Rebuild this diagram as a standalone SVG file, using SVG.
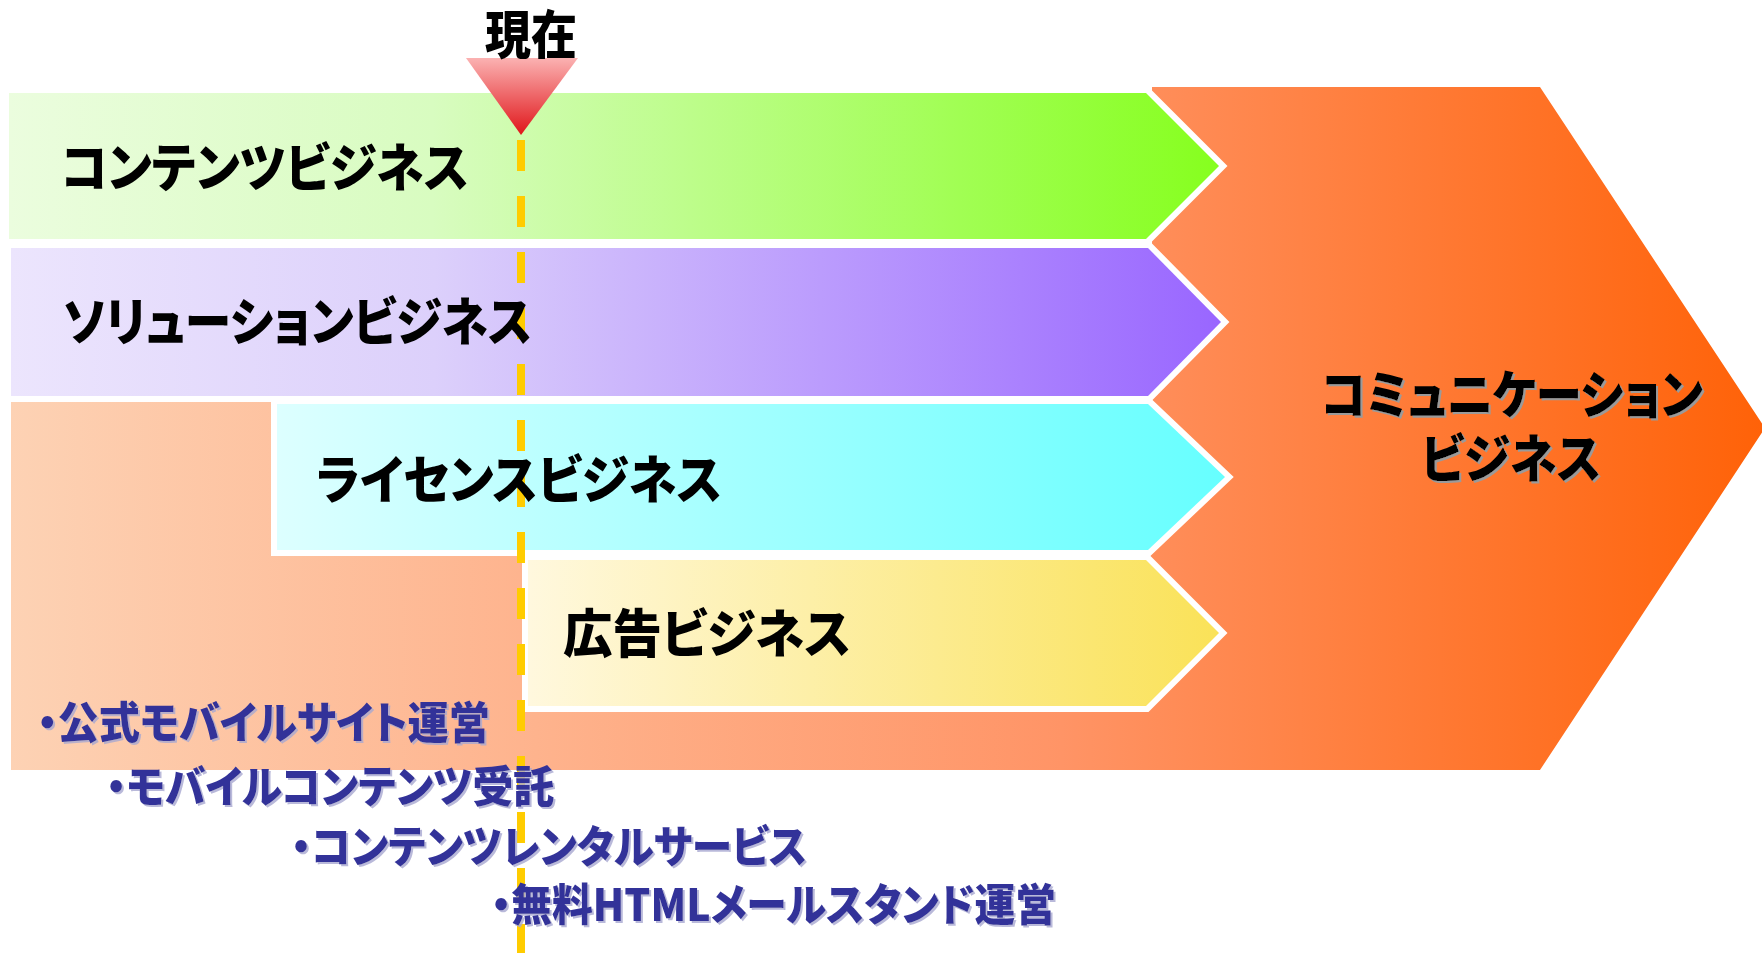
<svg xmlns="http://www.w3.org/2000/svg" width="1762" height="953" viewBox="0 0 1762 953">
<defs>
<style>
.lbl{font-family:"Noto Sans CJK JP","Noto Sans",sans-serif;font-weight:900;fill:#000;font-size:52px;font-feature-settings:"palt" 1;}
.sub{font-family:"Noto Sans CJK JP","Noto Sans",sans-serif;font-weight:900;fill:#333399;font-size:44px;font-feature-settings:"palt" 1;}
.band{stroke:#fff;stroke-width:12;stroke-linejoin:miter;paint-order:stroke;}
</style>
<linearGradient id="gOrange" gradientUnits="userSpaceOnUse" x1="11" y1="0" x2="1762" y2="0">
<stop offset="0" stop-color="#FDD2B4"/><stop offset="0.6" stop-color="#FF9466"/><stop offset="1" stop-color="#FF6208"/>
</linearGradient>
<linearGradient id="gGreen" gradientUnits="userSpaceOnUse" x1="9" y1="0" x2="1219" y2="0">
<stop offset="0" stop-color="#EBFDDE"/><stop offset="0.35" stop-color="#D8FCC0"/><stop offset="1" stop-color="#86FF1E"/>
</linearGradient>
<linearGradient id="gPurple" gradientUnits="userSpaceOnUse" x1="11" y1="0" x2="1221" y2="0">
<stop offset="0" stop-color="#ECE5FD"/><stop offset="0.35" stop-color="#DCD0FB"/><stop offset="1" stop-color="#9966FF"/>
</linearGradient>
<linearGradient id="gCyan" gradientUnits="userSpaceOnUse" x1="277" y1="0" x2="1225" y2="0">
<stop offset="0" stop-color="#DDFFFF"/><stop offset="1" stop-color="#66FFFF"/>
</linearGradient>
<linearGradient id="gYellow" gradientUnits="userSpaceOnUse" x1="528" y1="0" x2="1219" y2="0">
<stop offset="0" stop-color="#FFF8DE"/><stop offset="1" stop-color="#FAE258"/>
</linearGradient>
<linearGradient id="gTri" x1="0" y1="0" x2="0" y2="1">
<stop offset="0" stop-color="#FBB2B2"/><stop offset="1" stop-color="#E0161A"/>
</linearGradient>
<filter id="shGray" x="-5%" y="-20%" width="110%" height="140%">
<feOffset in="SourceAlpha" dx="2" dy="2" result="o"/>
<feFlood flood-color="#9A9A9A"/><feComposite in2="o" operator="in" result="s"/>
<feMerge><feMergeNode in="s"/><feMergeNode in="SourceGraphic"/></feMerge>
</filter>
<filter id="shBlue" x="-5%" y="-20%" width="110%" height="140%">
<feOffset in="SourceAlpha" dx="1.5" dy="1.5" result="o"/>
<feFlood flood-color="#A8A8D0" flood-opacity="0.8"/><feComposite in2="o" operator="in" result="s"/>
<feMerge><feMergeNode in="s"/><feMergeNode in="SourceGraphic"/></feMerge>
</filter>
</defs>
<rect width="1762" height="953" fill="#fff"/>

<g id="communication">
<polygon points="1152,87 1540,87 1765,428 1540,770 11,770 11,402 1152,402" fill="url(#gOrange)"/>
<text class="lbl" filter="url(#shGray)" font-size="47" x="1321" y="414" textLength="382" lengthAdjust="spacingAndGlyphs">コミュニケーション</text>
<text class="lbl" filter="url(#shGray)" font-size="47" x="1421" y="478" textLength="180" lengthAdjust="spacingAndGlyphs">ビジネス</text>
</g>

<g id="contents">
<polygon class="band" points="9,93 1146,93 1219,166 1146,239 9,239" fill="url(#gGreen)"/>
</g>
<g id="solution">
<polygon class="band" points="11,248 1148,248 1221,322 1148,396 11,396" fill="url(#gPurple)"/>
</g>
<g id="license">
<polygon class="band" points="277,404 1148,404 1225,477 1148,550 277,550" fill="url(#gCyan)"/>
</g>
<g id="ad">
<polygon class="band" points="528,560 1146,560 1219,633 1146,706 528,706" fill="url(#gYellow)"/>
</g>

<g id="timeline">
<line x1="521" y1="140" x2="521" y2="953" stroke="#FFCC00" stroke-width="8" stroke-dasharray="31 25"/>
</g>

<g id="labels">
<text class="lbl" x="61" y="187" textLength="408" lengthAdjust="spacingAndGlyphs">コンテンツビジネス</text>
<text class="lbl" x="63" y="341" textLength="469" lengthAdjust="spacingAndGlyphs">ソリューションビジネス</text>
<text class="lbl" x="316" y="499" textLength="406" lengthAdjust="spacingAndGlyphs">ライセンスビジネス</text>
<text class="lbl" x="563" y="653" textLength="288" lengthAdjust="spacingAndGlyphs">広告ビジネス</text>
</g>

<g id="current">
<polygon points="466,58 578,58 521,135" fill="url(#gTri)"/>
<text class="lbl" font-size="48" x="485" y="54" textLength="92" lengthAdjust="spacingAndGlyphs">現在</text>
</g>

<g id="services">
<text class="sub" filter="url(#shBlue)" x="37" y="739" textLength="453" lengthAdjust="spacingAndGlyphs">・公式モバイルサイト運営</text>
<text class="sub" filter="url(#shBlue)" x="106" y="803" textLength="448" lengthAdjust="spacingAndGlyphs">・モバイルコンテンツ受託</text>
<text class="sub" filter="url(#shBlue)" x="291" y="863" textLength="516" lengthAdjust="spacingAndGlyphs">・コンテンツレンタルサービス</text>
<text class="sub" filter="url(#shBlue)" x="491" y="921" textLength="565" lengthAdjust="spacingAndGlyphs">・無料HTMLメールスタンド運営</text>
</g>
</svg>
